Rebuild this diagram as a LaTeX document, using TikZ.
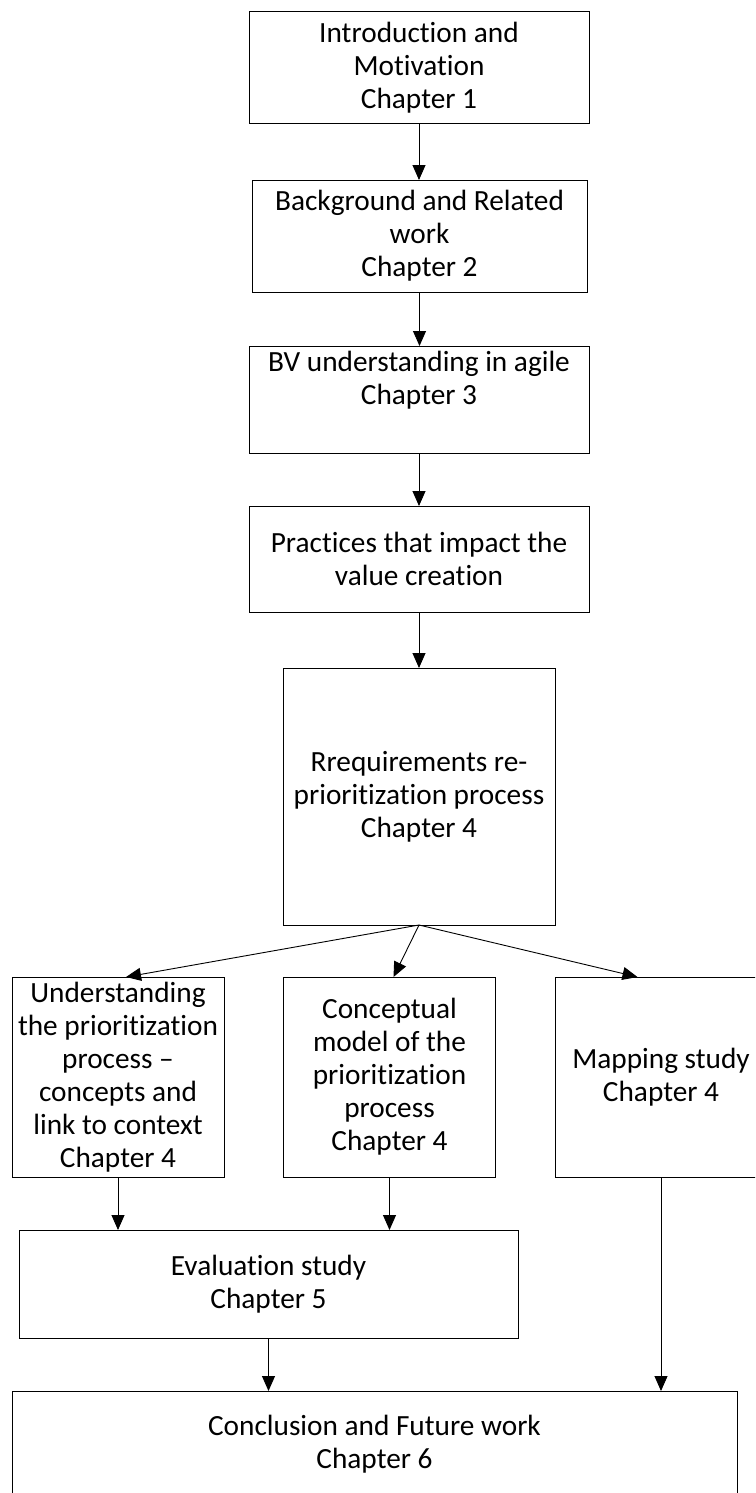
\documentclass[tikz,border=0pt]{standalone}
\usepackage{fontspec}
\setmainfont{Carlito}[Ligatures={NoCommon}]
\usetikzlibrary{arrows.meta}
\tikzset{
  box/.style={draw=black, line width=1pt, inner sep=0pt, outer sep=0pt, align=center,
    font=\fontsize{29.3}{33}\selectfont},
  conn/.style={draw=black, line width=0.9pt, -{Triangle[length=15pt,width=13pt]}},
  line/.style={draw=black, line width=0.9pt}
}
\begin{document}
\begin{tikzpicture}[x=1pt,y=-1pt]
\useasboundingbox (0,0) rectangle (755,1493);
\begin{scope}
\clip (0,0) rectangle (755,1493);
\node[box, minimum width=340pt, minimum height=112pt] (b1) at (419,68) {Introduction and\\Motivation\\Chapter 1};
\node[box, minimum width=335pt, minimum height=112pt] (b2) at (419.5,236) {Background and Related\\work\\Chapter 2};
\node[box, minimum width=340pt, minimum height=107pt] (b3) at (419,399.5) {BV understanding in agile\\Chapter 3\\\strut};
\node[box, minimum width=340pt, minimum height=106pt] (b4) at (419,559) {Practices that impact the\\value creation};
\node[box, minimum width=272pt, minimum height=257pt] (b5) at (419,796.5) {Rrequirements re-\\prioritization process\\Chapter 4};
\node[box, minimum width=212pt, minimum height=200pt] (b6) at (118,1077) {Understanding\\the prioritization\\process –\\concepts and\\link to context\\Chapter 4};
\node[box, minimum width=212pt, minimum height=200pt] (b7) at (389.5,1077) {Conceptual\\model of the\\prioritization\\process\\Chapter 4};
\node[box, minimum width=211pt, minimum height=200pt] (b8) at (661,1077) {Mapping study\\Chapter 4};
\node[box, minimum width=499pt, minimum height=108pt] (b9) at (268.5,1284) {Evaluation study\\Chapter 5};
\node[box, minimum width=725pt, minimum height=106pt] (b10) at (374.5,1444) {Conclusion and Future work\\Chapter 6};

\draw[conn] (b1.south) -- (b1.south |- b2.north);
\draw[conn] (b2.south) -- (b2.south |- b3.north);
\draw[conn] (b3.south) -- (b3.south |- b4.north);
\draw[conn] (b4.south) -- (b4.south |- b5.north);
\draw[conn] (b5.south) -- ([xshift=114pt]b6.north west);
\draw[conn] (b5.south) -- ([xshift=110pt]b7.north west);
\draw[conn] (b5.south) -- ([xshift=82pt]b8.north west);
\draw[conn] (b6.south) -- (b6.south |- b9.north);
\draw[conn] (b7.south) -- (b7.south |- b9.north);
\draw[conn] (b9.south) -- (b9.south |- b10.north);
\draw[conn] (b8.south) -- (b8.south |- b10.north);
\end{scope}
\end{tikzpicture}
\end{document}
